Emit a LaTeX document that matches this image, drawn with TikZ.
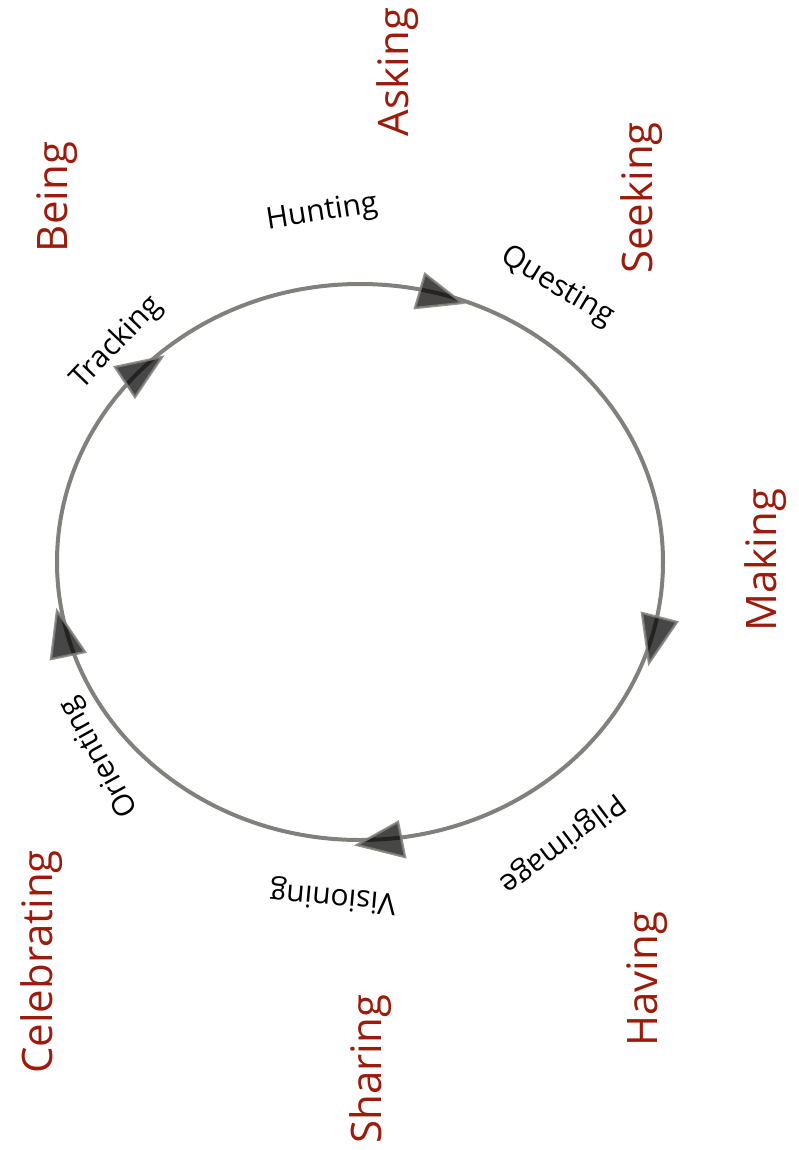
\documentclass[tikz,border=0pt]{standalone}
\usepackage{fontspec}
\setmainfont{Open Sans}
\definecolor{redlab}{RGB}{155,28,12}
\definecolor{ringgray}{RGB}{130,128,124}
\tikzset{
  ring/.style={draw=ringgray, line width=3pt},
  arrowtri/.style={draw=ringgray, draw opacity=0.85, line width=1.8pt, line join=miter, fill=black, fill opacity=0.72},
  stage/.style={inner sep=0pt, font=\fontsize{22.5}{27}\selectfont, text=black},
  mode/.style={inner sep=0pt, font=\fontsize{31.5}{38}\selectfont, text=redlab, rotate=90},
}
\begin{document}
\begin{tikzpicture}[x=0.75pt,y=-0.75pt]
\useasboundingbox (0,0) rectangle (799,1150);
% cycle ring
\coordinate (c) at (360,562);
\draw[ring] (c) ellipse [x radius=303, y radius=278];
% arrowheads along the ring
\draw[arrowtri] (425,274) -- (462,303) -- (415,308) -- cycle;
\draw[arrowtri] (115,367) -- (162,357) -- (135,397) -- cycle;
\draw[arrowtri] (51,659) -- (57,611) -- (85,652) -- cycle;
\draw[arrowtri] (398,822) -- (357,845) -- (405,857) -- cycle;
\draw[arrowtri] (642,613) -- (677,622) -- (649,663) -- cycle;
% stage labels
\node[stage, rotate=9]    (hunt)  at (322,213) {Hunting};
\node[stage, rotate=-31]  (quest) at (557,287) {Questing};
\node[stage, rotate=46]   (track) at (117,343) {Tracking};
\node[stage, rotate=119]  (orient) at (100,757) {Orienting};
\node[stage, rotate=175]  (vision) at (333,896) {Visioning};
\node[stage, rotate=217]  (pilg)  at (562,843) {Pilgrimage};
% mode labels
\node[mode] (asking) at (398,72) {Asking};
\node[mode] (seeking) at (642,198) {Seeking};
\node[mode] (being) at (57,197) {Being};
\node[mode] (making) at (766,560) {Making};
\node[mode] (celebrating) at (42,962) {Celebrating};
\node[mode] (sharing) at (371,1069) {Sharing};
\node[mode] (having) at (647,979) {Having};
\end{tikzpicture}
\end{document}
